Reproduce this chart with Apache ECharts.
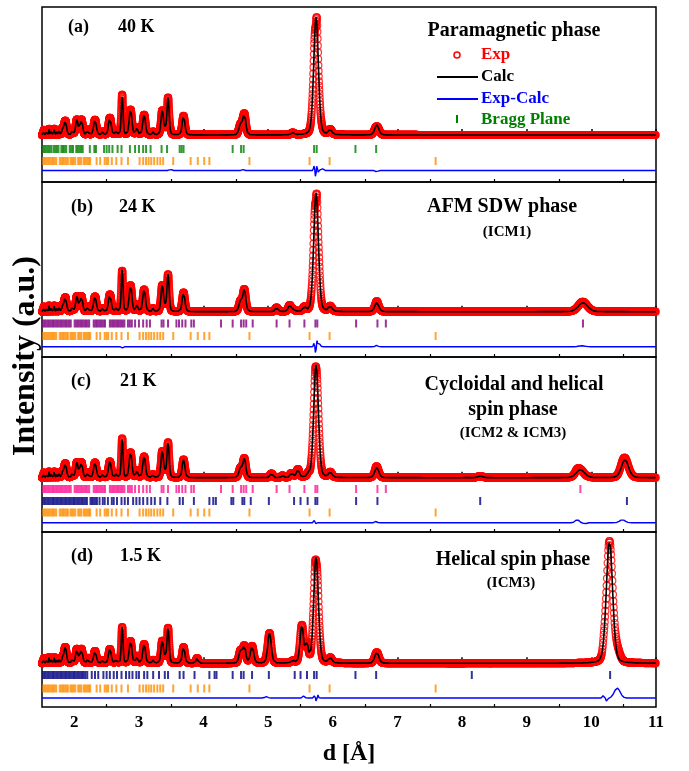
<!DOCTYPE html>
<html>
<head>
<meta charset="utf-8">
<script src="https://cdn.jsdelivr.net/npm/echarts@6/dist/echarts.min.js"></script>
<style>
  html, body { margin: 0; padding: 0; background: #fff; }
  #chart { width: 689px; height: 771px; }
</style>
</head>
<body>
<div id="chart"></div>
<script>
// ---------------- Bragg reflection positions, d (Å) ----------------
const nuclearTicks = [1.52,1.545,1.57,1.595,1.62,1.645,1.67,1.695,1.72,1.775,1.80,1.825,1.85,1.875,1.90,
  1.94,1.965,1.99,2.015,2.06,2.085,2.11,2.15,2.175,2.20,2.225,2.245,2.345,2.40,2.47,2.50,2.525,2.58,2.65,
  2.73,2.83,3.01,3.065,3.11,3.15,3.19,3.235,3.285,3.33,3.375,3.53,3.80,3.91,4.01,4.09,4.71,5.64,5.95,7.59];

const paramagneticTicks = [1.52,1.545,1.57,1.595,1.62,1.645,1.68,1.705,1.73,1.755,1.80,1.825,1.85,1.875,
  1.93,1.955,1.98,2.03,2.055,2.08,2.105,2.13,2.24,2.31,2.335,2.46,2.50,2.54,2.59,2.67,2.73,2.86,2.94,3.00,
  3.065,3.11,3.18,3.35,3.435,3.63,3.66,3.69,4.45,4.58,4.62,5.71,5.75,6.35,6.67];

const icm1Ticks = [1.52,1.545,1.57,1.595,1.62,1.645,1.67,1.695,1.72,1.745,1.77,1.795,1.82,1.845,1.87,1.895,
  1.92,1.945,2.005,2.03,2.055,2.08,2.105,2.13,2.155,2.18,2.205,2.23,2.30,2.325,2.35,2.375,2.40,2.425,2.45,
  2.475,2.55,2.575,2.60,2.625,2.65,2.675,2.70,2.725,2.75,2.775,2.83,2.86,2.89,2.94,3.00,3.065,3.12,3.17,
  3.35,3.38,3.45,3.58,3.62,3.67,3.72,3.81,3.85,4.27,4.45,4.58,4.62,4.66,4.76,5.13,5.33,5.56,5.73,5.76,
  6.36,6.69,6.82,9.87];

const icm2Ticks = [1.52,1.545,1.57,1.595,1.62,1.645,1.67,1.695,1.72,1.745,1.77,1.795,1.82,1.845,1.87,1.895,
  1.92,1.945,2.005,2.03,2.055,2.08,2.105,2.13,2.155,2.18,2.205,2.23,2.30,2.325,2.35,2.375,2.40,2.425,2.45,
  2.475,2.55,2.575,2.60,2.625,2.65,2.675,2.70,2.725,2.75,2.775,2.83,2.86,2.89,2.94,3.00,3.065,3.12,3.17,
  3.35,3.38,3.45,3.58,3.62,3.67,3.72,3.81,3.85,4.27,4.45,4.58,4.62,4.66,4.76,5.13,5.33,5.56,5.73,5.76,
  6.36,6.69,6.82,9.83];

const icm3Ticks21K = [1.52,1.545,1.57,1.595,1.62,1.645,1.67,1.695,1.72,1.745,1.77,1.795,1.82,1.845,1.87,
  1.895,1.92,1.945,1.97,1.995,2.02,2.045,2.07,2.095,2.12,2.145,2.17,2.195,2.25,2.275,2.30,2.325,2.35,2.39,
  2.44,2.47,2.52,2.58,2.61,2.66,2.73,2.78,2.83,2.91,2.96,3.01,3.065,3.13,3.19,3.245,3.33,3.44,3.63,3.68,
  3.85,4.09,4.15,4.19,4.43,4.46,4.60,4.63,4.73,5.01,5.40,5.50,5.61,5.73,5.76,6.36,6.69,8.28,10.55];

const icm3Ticks1p5K = [1.52,1.545,1.57,1.595,1.62,1.645,1.67,1.695,1.72,1.745,1.77,1.795,1.82,1.845,1.87,
  1.895,1.92,1.945,1.97,1.995,2.02,2.045,2.07,2.095,2.12,2.145,2.17,2.20,2.27,2.32,2.37,2.45,2.50,2.55,
  2.61,2.66,2.73,2.80,2.85,2.90,2.96,3.00,3.08,3.13,3.22,3.31,3.40,3.45,3.63,3.69,3.86,4.09,4.17,4.20,
  4.45,4.58,4.62,4.75,5.01,5.41,5.50,5.60,5.71,5.75,6.35,6.67,8.15,10.29];

// ---------------- Refined profile: nuclear reflections ----------------
const nuclearPeakD = [1.53,1.57,1.61,1.65,1.69,1.73,1.77,1.82,1.86,1.97,2.04,2.11,2.21,2.32,2.44,2.55,2.65,
  2.74,2.87,2.97,3.08,3.22,3.36,3.40,3.45,3.69,4.57,4.63,5.38,5.74,5.96,6.68];
const nuclearPeakFwhm = [0.015,0.015,0.015,0.015,0.015,0.015,0.015,0.03,0.045,0.03,0.045,0.045,0.03,0.05,0.03,
  0.05,0.03,0.032,0.05,0.035,0.05,0.03,0.045,0.03,0.04,0.05,0.055,0.055,0.06,0.085,0.06,0.075];
const heights40K  = [5,3,6,4,6,3,5,5,14,4,15,15,5,15,3,17,4,40,25,7,20,3,24,4,37,19,10,21,2,118,5,10];
const heights24K  = [5,3,6,4,6,3,5,5,14,4,15,15,5,15,3,17,4,42,26,7,22,3,26,4,37,19,10,22,2,119,5,9];
const heights21K  = [5,3,6,4,6,3,5,5,14,4,15,15,5,15,3,16,4,39,25,7,21,3,26,4,35,18,9,19,2,113,5,10];
const heights1p5K = [5,3,6,4,6,3,5,5,16,4,14,14,5,12,3,14,4,36,22,7,19,3,22,4,35,16,12,17,2,106,5,11];

// ---------------- Magnetic reflections ----------------
const magD24K = [5.13,5.33,5.56,9.87];
const magH24K = [4,6,4,9];
const magW24K = [0.05,0.05,0.05,0.17];
const magD21K = [5.05,5.22,5.35,5.46,5.62,8.28,9.83,10.52];
const magH21K = [4,2,3,8,3,1.5,8,18];
const magW21K = [0.05,0.04,0.04,0.05,0.04,0.1,0.15,0.13];
const magD1p5K = [3.90,4.75,5.02,5.52,5.60,10.28];
const magH1p5K = [5,17,30,37,18,122];
const magW1p5K = [0.04,0.06,0.065,0.065,0.05,0.115];

// ---------------- Observed minus calculated misfit: [d, amplitude, width] ----------------
const misfit40K = [[3.49,2,0.012],[4.60,1.5,0.01],[5.71,5,0.007],[5.735,-8,0.007],[5.755,7,0.007],[5.78,-3,0.008],[5.83,2,0.02],[6.68,-1.5,0.015]];
const misfit24K = [[2.74,-1.5,0.008],[5.71,5,0.007],[5.735,-8,0.007],[5.755,6,0.007],[5.79,3,0.015],[6.68,1.5,0.015],[9.85,1,0.04]];
const misfit21K = [[5.72,4,0.007],[5.745,-3,0.007],[6.67,1.5,0.015],[9.78,3,0.03],[9.90,-1,0.03],[10.48,3,0.04]];
const misfit1p5K = [[4.97,1.5,0.02],[5.55,2,0.015],[5.72,4,0.007],[5.745,-5,0.007],[5.77,3,0.008],[10.19,3,0.012],[10.24,-4,0.012],[10.40,10,0.045]];

const majorTicks = [2,3,4,5,6,7,8,9,10,11];
const minorTicks = [2.5,3.5,4.5,5.5,6.5,7.5,8.5,9.5,10.5];

// ---------------- Helpers ----------------
// TOF-like binning: constant Δd/d
const dGrid = [];
for (let d = 1.5; d <= 11.0001; d *= 1.0005) dGrid.push(d);

function pseudoVoigt(x, D, H, W) {
  let s = 0;
  for (let k = 0; k < D.length; k++) {
    const t = (x - D[k]) / W[k];
    const t2 = 4 * t * t;
    if (t2 > 4000) continue;
    s += H[k] * (0.8 * Math.exp(-Math.LN2 * t2) + 0.2 / (1 + t2));
  }
  return s;
}
function misfitAt(x, list) {
  let s = 0;
  for (const [c, a, w] of list) {
    const u = (x - c) / w;
    if (u * u < 60) s += a * Math.exp(-0.5 * u * u);
  }
  return s;
}

const panels = [
  { heights: heights40K, mD: [], mH: [], mW: [], misfit: misfit40K, yMin: -47, yMax: 128, diffY: -35.5,
    rows: [{ ticks: paramagneticTicks, color: '#008000', y: -14 }, { ticks: nuclearTicks, color: '#ff8c00', y: -26 }] },
  { heights: heights24K, mD: magD24K, mH: magH24K, mW: magW24K, misfit: misfit24K, yMin: -45.3, yMax: 129.7, diffY: -35,
    rows: [{ ticks: icm1Ticks, color: '#800080', y: -11.8 }, { ticks: nuclearTicks, color: '#ff8c00', y: -24.3 }] },
  { heights: heights21K, mD: magD21K, mH: magH21K, mW: magW21K, misfit: misfit21K, yMin: -54.3, yMax: 120.7, diffY: -45,
    rows: [{ ticks: icm2Ticks, color: '#ff1493', y: -11.3 }, { ticks: icm3Ticks21K, color: '#000080', y: -23.3 },
           { ticks: nuclearTicks, color: '#ff8c00', y: -34.8 }] },
  { heights: heights1p5K, mD: magD1p5K, mH: magH1p5K, mW: magW1p5K, misfit: misfit1p5K, yMin: -43.7, yMax: 131.3, diffY: -34.7,
    rows: [{ ticks: icm3Ticks1p5K, color: '#000080', y: -11.7 }, { ticks: nuclearTicks, color: '#ff8c00', y: -25.2 }] }
];

const FONT = '"Liberation Serif", "Times New Roman", serif';
const grids = [], xAxes = [], yAxes = [], series = [];
const PANEL_TOP = 7, PANEL_H = 175;

panels.forEach((p, i) => {
  grids.push({ left: 42, right: 33, top: PANEL_TOP + PANEL_H * i, height: PANEL_H,
    show: true, borderColor: '#000', borderWidth: 1.5, backgroundColor: 'transparent' });
  const isBottom = i === panels.length - 1;
  xAxes.push({
    gridIndex: i, type: 'value', min: 1.5, max: 11, position: 'bottom',
    axisLine: { show: false }, splitLine: { show: false },
    axisTick: { show: true, inside: true, length: 6, customValues: majorTicks, lineStyle: { color: '#000', width: 1.5 } },
    axisLabel: { show: isBottom, customValues: majorTicks, margin: 7, color: '#000',
      fontFamily: FONT, fontWeight: 'bold', fontSize: 17 }
  });
  xAxes.push({
    gridIndex: i, type: 'value', min: 1.5, max: 11, position: 'bottom',
    axisLine: { show: false }, splitLine: { show: false }, axisLabel: { show: false },
    axisTick: { show: true, inside: true, length: 3, customValues: minorTicks, lineStyle: { color: '#000', width: 1.2 } }
  });
  yAxes.push({ gridIndex: i, type: 'value', min: p.yMin, max: p.yMax, show: false });

  const calc = dGrid.map(x => pseudoVoigt(x, nuclearPeakD, p.heights, nuclearPeakFwhm) + pseudoVoigt(x, p.mD, p.mH, p.mW));
  const obs = dGrid.map((x, j) => calc[j] + misfitAt(x, p.misfit));

  series.push({
    type: 'scatter', xAxisIndex: 2 * i, yAxisIndex: i, symbol: 'circle', symbolSize: 7,
    data: dGrid.map((x, j) => [x, obs[j]]), silent: true, z: 2,
    progressive: 0, progressiveThreshold: 1e7, large: false,
    itemStyle: { color: 'rgba(255,255,255,0)', borderColor: '#ff0000', borderWidth: 1.2 }
  });
  series.push({
    type: 'line', xAxisIndex: 2 * i, yAxisIndex: i, showSymbol: false, silent: true, z: 4,
    data: dGrid.map((x, j) => [x, calc[j]]), lineStyle: { color: '#000', width: 1.6 }
  });
  series.push({
    type: 'line', xAxisIndex: 2 * i, yAxisIndex: i, showSymbol: false, silent: true, z: 3,
    data: dGrid.map((x, j) => [x, obs[j] - calc[j] + p.diffY]), lineStyle: { color: '#0000ff', width: 1.4 }
  });
  p.rows.forEach(r => {
    series.push({
      type: 'scatter', xAxisIndex: 2 * i, yAxisIndex: i, symbol: 'rect', symbolSize: [2, 8],
      silent: true, z: 2, data: r.ticks.map(d => [d, r.y]), itemStyle: { color: r.color }
    });
  });
});

function txt(text, x, y, size, color, align) {
  return { type: 'text', x: x, y: y, silent: true, z: 100,
    style: { text: text, fill: color || '#000', font: 'bold ' + size + 'px ' + FONT,
      align: align || 'left', verticalAlign: 'middle', textAlign: align || 'left', textVerticalAlign: 'middle' } };
}

const graphic = [
  // panel tags and temperatures
  txt('(a)', 68, 27, 18), txt('40 K', 118, 27, 18),
  txt('(b)', 71, 207, 18), txt('24 K', 119, 207, 18),
  txt('(c)', 71, 381, 18), txt('21 K', 120, 381, 18),
  txt('(d)', 71, 556, 18), txt('1.5 K', 120, 556, 18),
  // phase descriptions
  txt('Paramagnetic phase', 514, 31, 20, '#000', 'center'),
  txt('AFM SDW phase', 502, 207, 20, '#000', 'center'),
  txt('(ICM1)', 507, 232, 15, '#000', 'center'),
  txt('Cycloidal and helical', 514, 385, 20, '#000', 'center'),
  txt('spin phase', 513, 410, 20, '#000', 'center'),
  txt('(ICM2 & ICM3)', 513, 433, 15, '#000', 'center'),
  txt('Helical spin phase', 513, 560, 20, '#000', 'center'),
  txt('(ICM3)', 511, 583, 15, '#000', 'center'),
  // key
  { type: 'circle', shape: { cx: 457, cy: 55, r: 3 }, silent: true, z: 100,
    style: { fill: 'none', stroke: '#ff0000', lineWidth: 1.5 } },
  txt('Exp', 481, 55, 17, '#ff0000'),
  { type: 'line', shape: { x1: 437, y1: 77, x2: 478, y2: 77 }, silent: true, z: 100,
    style: { stroke: '#000', lineWidth: 2 } },
  txt('Calc', 481, 77, 17, '#000'),
  { type: 'line', shape: { x1: 437, y1: 99, x2: 478, y2: 99 }, silent: true, z: 100,
    style: { stroke: '#0000ff', lineWidth: 2 } },
  txt('Exp-Calc', 481, 99, 17, '#0000ff'),
  { type: 'rect', shape: { x: 456, y: 115, width: 2, height: 8 }, silent: true, z: 100,
    style: { fill: '#008000' } },
  txt('Bragg Plane', 481, 120, 17, '#008000'),
  // axis titles
  Object.assign(txt('Intensity (a.u.)', 26, 356, 32, '#000', 'center'), { rotation: Math.PI / 2 }),
  txt('d [Å]', 349, 754, 24, '#000', 'center')
];

const chart = echarts.init(document.getElementById('chart'), null, { renderer: 'canvas' });
chart.setOption({
  animation: false,
  backgroundColor: '#fff',
  grid: grids,
  xAxis: xAxes,
  yAxis: yAxes,
  series: series,
  graphic: graphic
});
</script>
</body>
</html>
